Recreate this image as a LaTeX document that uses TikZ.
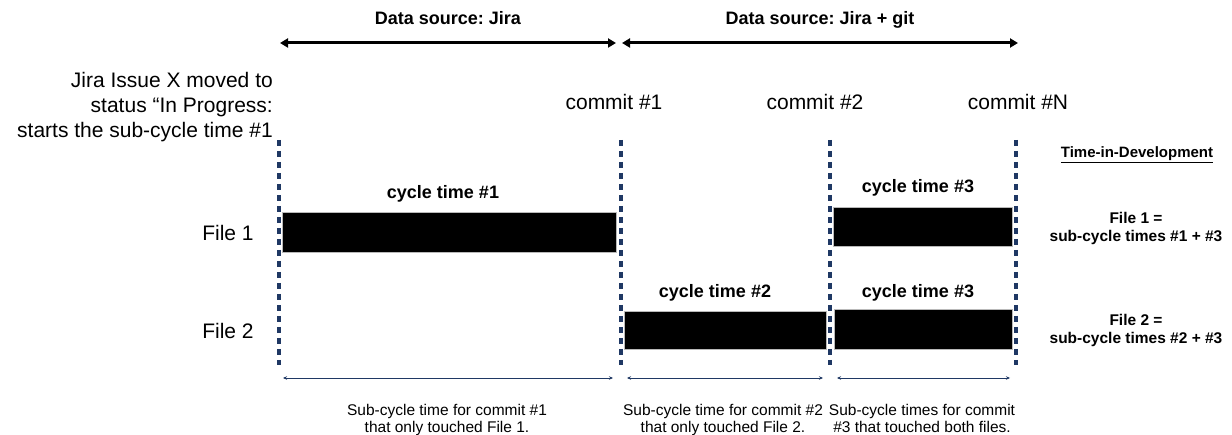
\documentclass[tikz,border=0pt]{standalone}
\usepackage{fontspec}
\setmainfont{Liberation Sans}
\usetikzlibrary{arrows.meta}
\definecolor{navy}{HTML}{1F3864}
\frenchspacing

\begin{document}
\begin{tikzpicture}[x=1pt, y=-1pt,
  every node/.style={inner sep=0pt},
  txt/.style={font=\fontsize{21}{25}\selectfont},
  hdr/.style={font=\bfseries\fontsize{18}{21}\selectfont},
  note/.style={font=\fontsize{15.5}{17}\selectfont, align=center},
  sumtxt/.style={font=\bfseries\fontsize{15.5}{18}\selectfont, align=center},
  span/.style={line width=3pt, {Triangle[length=8pt,width=9pt]}-{Triangle[length=8pt,width=9pt]}},
  brk/.style={navy, line width=0.9pt, {Stealth[length=4pt,width=3.5pt]}-{Stealth[length=4pt,width=3.5pt]}},
  divider/.style={navy, line width=3.2pt, dash pattern=on 6.5pt off 4.5pt},
  bar/.style={fill=black, draw=gray!55, line width=0.8pt}]

\useasboundingbox (0,0) rectangle (1232,435);

% data sources
\coordinate (src1a) at (280,43);
\coordinate (src1b) at (616,43);
\coordinate (src2a) at (622,43);
\coordinate (src2b) at (1018,43);
\draw[span] (src1a) -- (src1b);
\draw[span] (src2a) -- (src2b);
\node[hdr, anchor=base] (hdr1) at (448,25) {Data source: Jira};
\node[hdr, anchor=base] (hdr2) at (820,25) {Data source: Jira + git};

\node[txt, anchor=north east, align=right] (start) at (273,72) {Jira Issue X moved to\\status “In Progress:\\starts the sub-cycle time \#1};
\node[txt, anchor=base] (commit1) at (614,110) {commit \#1};
\node[txt, anchor=base] (commit2) at (815,110) {commit \#2};
\node[txt, anchor=base] (commitN) at (1018,110) {commit \#N};

% commit boundaries
\coordinate (top0) at (279,140);  \coordinate (bot0) at (279,365);
\coordinate (top1) at (621,140);  \coordinate (bot1) at (621,365);
\coordinate (top2) at (830,140);  \coordinate (bot2) at (830,365);
\coordinate (top3) at (1016,140); \coordinate (bot3) at (1016,365);
\draw[divider] (top0) -- (bot0);
\draw[divider] (top1) -- (bot1);
\draw[divider] (top2) -- (bot2);
\draw[divider] (top3) -- (bot3);

% files
\node[txt, anchor=base] (file1) at (228,241) {File 1};
\node[txt, anchor=base] (file2) at (228,339) {File 2};

\draw[bar] (282,212) rectangle (616,252);
\draw[bar] (833,207) rectangle (1012,246);
\draw[bar] (624,311) rectangle (826,349);
\draw[bar] (834,309) rectangle (1012,349);
\node[hdr, anchor=base] (ct1) at (443,199) {cycle time \#1};
\node[hdr, anchor=base] (ct3a) at (918,193) {cycle time \#3};
\node[hdr, anchor=base] (ct2) at (715,298) {cycle time \#2};
\node[hdr, anchor=base] (ct3b) at (918,298) {cycle time \#3};

% time in development
\node[font=\bfseries\fontsize{15}{18}\selectfont, anchor=base] (tid) at (1137,158) {\underline{Time-in-Development}};
\node[sumtxt, anchor=north] (sum1) at (1136,212) {File 1 =\\sub-cycle times \#1 + \#3};
\node[sumtxt, anchor=north] (sum2) at (1136,314) {File 2 =\\sub-cycle times \#2 + \#3};

% sub-cycles
\coordinate (sub1a) at (283,378);  \coordinate (sub1b) at (613,378);
\coordinate (sub2a) at (627,378);  \coordinate (sub2b) at (823,378);
\coordinate (sub3a) at (837,378);  \coordinate (sub3b) at (1010,378);
\draw[brk] (sub1a) -- (sub1b);
\draw[brk] (sub2a) -- (sub2b);
\draw[brk] (sub3a) -- (sub3b);
\node[note, anchor=north] (note1) at (447,404) {Sub-cycle time for commit \#1\\that only touched File 1.};
\node[note, anchor=north] (note2) at (723,404) {Sub-cycle time for commit \#2\\that only touched File 2.};
\node[note, anchor=north] (note3) at (922,404) {Sub-cycle times for commit\\\#3 that touched both files.};

\end{tikzpicture}
\end{document}
